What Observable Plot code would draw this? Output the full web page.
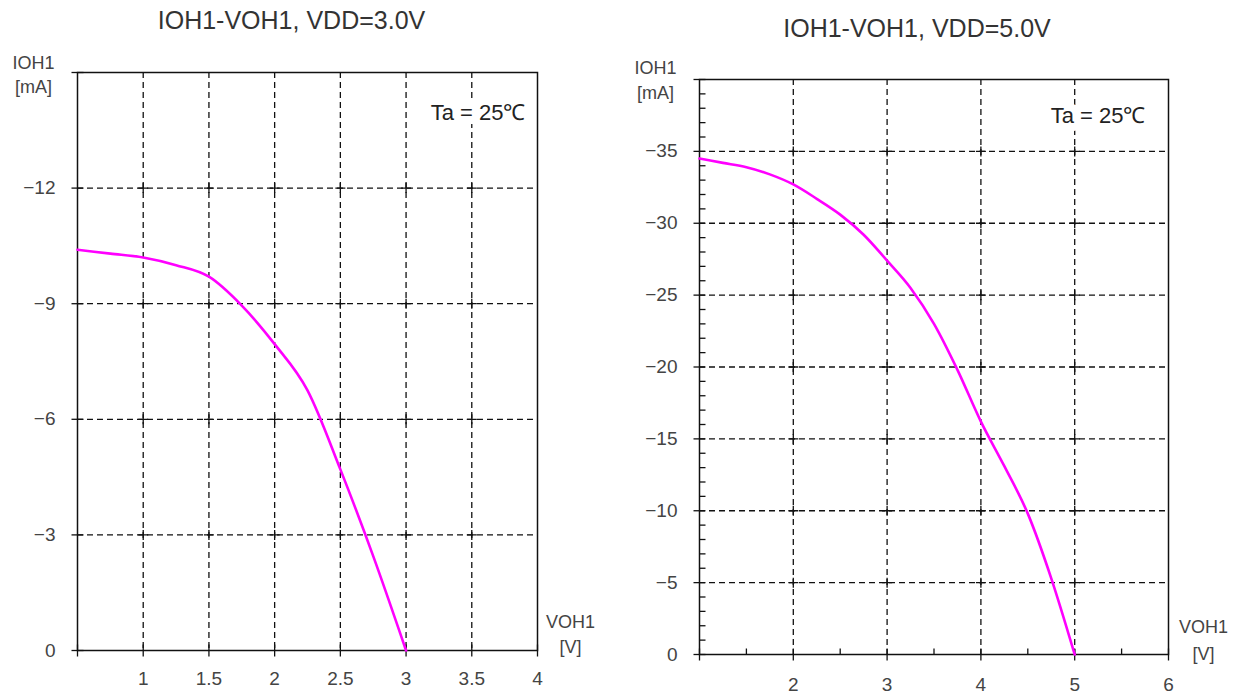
<!DOCTYPE html>
<html>
<head>
<meta charset="utf-8">
<script src="https://cdn.jsdelivr.net/npm/d3@7"></script>
<script src="https://cdn.jsdelivr.net/npm/@observablehq/plot@0.6"></script>
<style>
  html, body { margin: 0; padding: 0; background: #fff; }
  #wrap { display: flex; width: 1244px; height: 697px; }
  svg { font-family: "Liberation Sans", Arial, sans-serif; }
</style>
</head>
<body>
<div id="wrap"></div>
<script>
// ---- Data: left chart (VDD = 3.0 V)
const leftV = [0.5, 0.75, 1.0, 1.25, 1.5, 1.75, 2.0, 2.25, 2.5, 2.75, 3.0];
const leftI = [-10.4, -10.3, -10.2, -10.0, -9.7, -8.95, -7.95, -6.75, -4.7, -2.45, 0];
const leftXTicks = [1, 1.5, 2, 2.5, 3, 3.5, 4];
const leftYTicks = [0, -3, -6, -9, -12];

// ---- Data: right chart (VDD = 5.0 V)
const rightV = [1.0, 1.25, 1.5, 1.75, 2.0, 2.25, 2.5, 2.75, 3.0, 3.25, 3.5, 3.75, 4.0, 4.25, 4.5, 4.75, 5.0];
const rightI = [-34.5, -34.2, -33.9, -33.4, -32.7, -31.7, -30.6, -29.2, -27.4, -25.5, -23.0, -19.8, -16.2, -13.1, -9.8, -5.3, 0];
const rightXTicks = [2, 3, 4, 5, 6];
const rightYTicks = [0, -5, -10, -15, -20, -25, -30, -35];

const titles = ["IOH1-VOH1, VDD=3.0V", "IOH1-VOH1, VDD=5.0V"];
const tempLabel = "Ta = 25\u2103";

const TXT = "#444";
const fmt = d => String(d).replace("-", "\u2212");

function sym(f) {
  return { draw(ctx, size) { const r = Math.sqrt(size / Math.PI); f(ctx, r); } };
}
const plusSym = sym((c, r) => { c.moveTo(-r, 0); c.lineTo(r, 0); c.moveTo(0, -r); c.lineTo(0, r); });
const hSym = sym((c, r) => { c.moveTo(-r, 0); c.lineTo(r, 0); });
const vSym = sym((c, r) => { c.moveTo(0, -r); c.lineTo(0, r); });
const hRight = sym((c, r) => { c.moveTo(0, 0); c.lineTo(r, 0); });
const vUp = sym((c, r) => { c.moveTo(0, 0); c.lineTo(0, -r); });

function cross(xs, ys) {
  const out = [];
  for (const x of xs) for (const y of ys) out.push({x, y});
  return out;
}

function chart(cfg) {
  const pts = cfg.V.map((v, i) => ({v, i: cfg.I[i]}));
  const [x0] = cfg.xDomain;
  const [y0] = cfg.yDomain; // y0 = 0 at bottom
  const tick = {x: "x", y: "y", stroke: "#111", fill: "none", strokeWidth: 1.3};
  const marks = [
    Plot.ruleX(cfg.xGrid, {stroke: "#111", strokeWidth: 1.3, strokeDasharray: "6,4"}),
    Plot.ruleY(cfg.yGrid, {stroke: "#111", strokeWidth: 1.3, strokeDasharray: "6,4"}),
    Plot.dot(cross(cfg.xGrid, cfg.yGrid), {...tick, symbol: plusSym, r: 5}),
    Plot.dot(cfg.yMajor.map(y => ({x: x0, y})), {...tick, symbol: hSym, r: 6}),
    Plot.dot(cfg.xMajor.map(x => ({x, y: y0})), {...tick, symbol: vSym, r: 6}),
  ];
  if (cfg.yMinor) marks.push(Plot.dot(cfg.yMinor.map(y => ({x: x0, y})), {...tick, symbol: hRight, r: 6}));
  if (cfg.xMinor) marks.push(Plot.dot(cfg.xMinor.map(x => ({x, y: y0})), {...tick, symbol: vUp, r: 6}));
  marks.push(
    Plot.text([tempLabel], {frameAnchor: "top-right", dx: cfg.taDx, dy: cfg.taDy, fontSize: 22, fill: "#222", stroke: "#fff", strokeWidth: 16, strokeLinejoin: "round", textAnchor: "end", lineAnchor: "middle"}),
    Plot.frame({stroke: "#111", strokeWidth: 1.5}),
    Plot.line(pts, {x: "v", y: "i", stroke: "#ff00ff", strokeWidth: 2.6, curve: "monotone-x"}),
    Plot.axisX({ticks: cfg.xTicks, tickSize: 0, tickPadding: cfg.xPad, tickFormat: fmt, fontSize: 19, fill: TXT, label: null}),
    Plot.axisY({ticks: cfg.yTicks, tickSize: 0, tickPadding: 22, tickFormat: fmt, fontSize: 19, fill: TXT, label: null}),
    Plot.text([cfg.title], {frameAnchor: "top", dx: cfg.titleDx, dy: cfg.titleDy, fontSize: 25, fill: "#333", textAnchor: "middle", lineAnchor: "middle"}),
    Plot.text(["IOH1"], {frameAnchor: "top-left", dx: -44, dy: cfg.yl1, fontSize: 18, fill: TXT, textAnchor: "middle", lineAnchor: "middle"}),
    Plot.text(["[mA]"], {frameAnchor: "top-left", dx: -44, dy: cfg.yl2, fontSize: 18, fill: TXT, textAnchor: "middle", lineAnchor: "middle"}),
    Plot.text(["VOH1"], {frameAnchor: "bottom-right", dx: cfg.xlDx, dy: cfg.xl1, fontSize: 18, fill: TXT, textAnchor: "middle", lineAnchor: "middle"}),
    Plot.text(["[V]"], {frameAnchor: "bottom-right", dx: cfg.xlDx, dy: cfg.xl2, fontSize: 18, fill: TXT, textAnchor: "middle", lineAnchor: "middle"})
  );
  return Plot.plot({
    width: cfg.width, height: 697,
    marginLeft: cfg.ml, marginRight: cfg.mr, marginTop: cfg.mt, marginBottom: cfg.mb,
    x: {domain: cfg.xDomain, axis: null},
    y: {domain: cfg.yDomain, axis: null},
    style: {background: "#fff", overflow: "visible"},
    marks
  });
}

const left = chart({
  V: leftV, I: leftI, title: titles[0],
  width: 620, ml: 77, mr: 83, mt: 72, mb: 47,
  xDomain: [0.5, 4], yDomain: [0, -15],
  xGrid: [1, 1.5, 2, 2.5, 3, 3.5], yGrid: [-3, -6, -9, -12],
  xMajor: [0.5, 1, 1.5, 2, 2.5, 3, 3.5, 4], yMajor: [0, -3, -6, -9, -12, -15],
  xTicks: leftXTicks, yTicks: leftYTicks, xPad: 21,
  titleDx: -16, titleDy: -52,
  yl1: -9, yl2: 15, xlDx: 33, xl1: -28, xl2: -3,
  taDx: -12, taDy: 40
});

const right = chart({
  V: rightV, I: rightI, title: titles[1],
  width: 624, ml: 79, mr: 76, mt: 79, mb: 43,
  xDomain: [1, 6], yDomain: [0, -40],
  xGrid: [2, 3, 4, 5], yGrid: [-5, -10, -15, -20, -25, -30, -35],
  xMajor: [1, 2, 3, 4, 5, 6], yMajor: [0, -5, -10, -15, -20, -25, -30, -35, -40],
  yMinor: d3.range(-39, 0).filter(v => v % 5 !== 0),
  xMinor: [1.5, 2.5, 3.5, 4.5, 5.5],
  xTicks: rightXTicks, yTicks: rightYTicks, xPad: 23,
  titleDx: -17, titleDy: -51,
  yl1: -11, yl2: 14, xlDx: 35, xl1: -27, xl2: 0,
  taDx: -23, taDy: 36
});

const wrap = document.getElementById("wrap");
wrap.appendChild(left);
wrap.appendChild(right);
</script>
</body>
</html>
